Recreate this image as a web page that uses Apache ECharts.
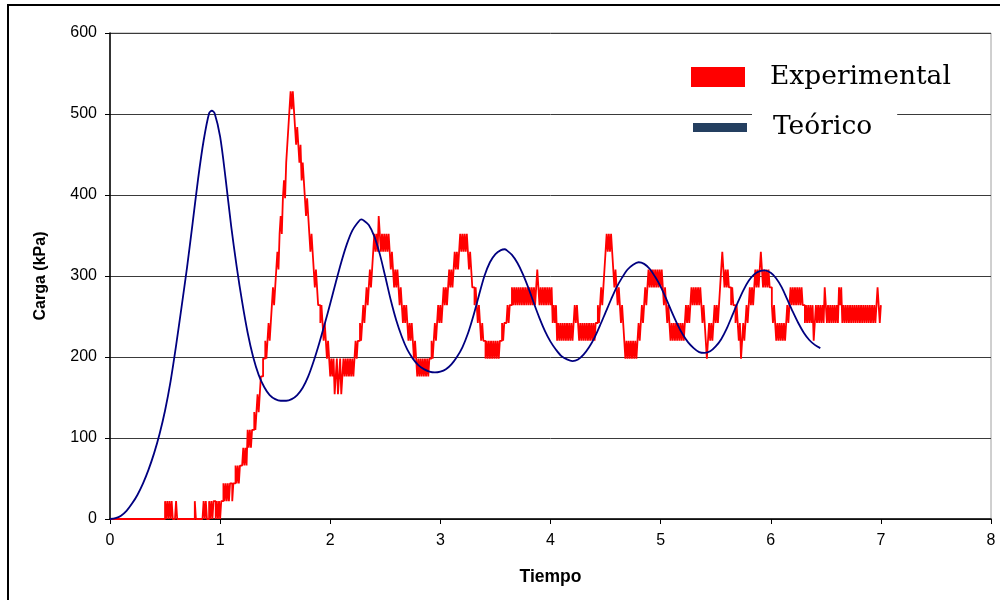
<!DOCTYPE html>
<html>
<head>
<meta charset="utf-8">
<script src="https://cdn.jsdelivr.net/npm/echarts@6/dist/echarts.min.js"></script>
<style>html,body{margin:0;padding:0;background:#fff}#chart{width:1000px;height:600px}</style>
</head>
<body>
<div id="chart"></div>
<script>
// Series names
const seriesNames = ['Experimental', 'Teórico'];
// Tick labels
const xTicks = [0, 1, 2, 3, 4, 5, 6, 7, 8];
const yTicks = [0, 100, 200, 300, 400, 500, 600];

// Experimental load (kPa), sampled every 0.01 s starting at t = 0
const expStart = 0;
const expStep = 0.01;
const expValues = [
  0,0,0,0,0,0,0,0,0,0,
  0,0,0,0,0,0,0,0,0,0,
  0,0,0,0,0,0,0,0,0,0,
  0,0,0,0,0,0,0,0,0,0,
  0,0,0,0,0,0,0,0,0,0,
  22,0,22,0,22,0,22,0,0,0,
  22,0,0,0,0,0,0,0,0,0,
  0,0,0,0,0,0,0,22,0,0,
  0,0,0,0,0,22,0,22,0,0,
  22,0,22,0,22,22,0,22,0,22,
  0,22,22,44,22,44,22,44,22,44,
  44,22,44,44,66,44,66,44,66,66,
  66,88,66,88,66,110,88,110,88,110,
  110,132,110,132,154,132,154,176,176,198,
  198,220,198,220,242,220,242,264,286,264,
  286,308,330,308,352,374,352,396,418,396,
  440,462,484,506,528,506,528,506,484,462,
  484,462,440,462,418,440,418,396,374,396,
  374,352,330,352,330,308,286,308,286,264,
  264,242,264,242,220,242,220,198,220,198,
  176,198,176,198,154,176,198,154,176,198,
  154,176,198,176,198,176,198,176,198,176,
  198,176,198,220,198,220,220,242,220,242,
  264,242,264,286,264,286,308,286,308,330,
  352,330,352,330,374,352,330,352,330,352,
  330,352,330,352,330,308,330,308,286,308,
  286,308,286,264,286,264,242,264,242,264,
  242,220,242,220,242,220,198,220,198,176,
  198,176,198,176,198,176,198,176,198,176,
  198,198,220,198,220,242,220,242,264,242,
  264,242,264,286,264,286,264,286,308,286,
  308,286,308,330,308,330,308,330,352,330,
  352,330,352,330,352,330,308,330,308,286,
  286,264,286,264,242,264,242,220,242,220,
  220,198,220,198,220,198,220,198,220,198,
  220,198,220,198,220,220,242,220,242,242,
  242,264,242,264,264,286,264,286,264,286,
  264,286,264,286,264,286,264,286,264,286,
  264,286,264,286,264,286,264,286,308,286,
  264,286,264,286,264,286,264,286,264,286,
  264,286,242,264,242,264,220,242,220,242,
  220,242,220,242,220,242,220,242,220,242,
  220,242,264,242,264,242,220,242,220,242,
  220,242,220,242,220,242,220,242,220,242,
  220,242,242,264,242,264,286,264,286,308,
  330,352,330,352,330,352,330,308,286,308,
  286,264,286,264,242,264,242,220,198,220,
  198,220,198,220,198,220,198,220,198,220,
  242,220,242,264,242,264,286,264,286,308,
  286,308,286,308,286,308,286,308,286,308,
  286,308,286,264,286,264,242,264,242,220,
  242,220,242,220,242,220,242,220,242,220,
  242,220,242,264,242,264,242,264,286,264,
  286,264,286,264,286,264,286,264,242,264,
  242,220,198,220,242,220,242,220,242,264,
  242,264,242,264,286,308,330,308,286,308,
  286,308,286,286,264,286,264,264,242,264,
  242,220,242,198,220,242,220,242,264,242,
  264,286,264,286,264,286,308,286,308,286,
  308,330,308,286,308,286,308,286,308,286,
  286,264,242,264,242,220,242,220,242,220,
  242,220,242,220,242,264,242,264,286,264,
  286,264,286,264,286,264,286,264,286,264,
  264,242,264,242,264,242,264,242,264,220,
  242,264,242,264,242,264,242,264,242,286,
  264,242,264,242,264,242,264,242,264,242,
  264,242,286,264,286,242,264,242,264,242,
  264,242,264,242,264,242,264,242,264,242,
  264,242,264,242,264,242,264,242,264,242,
  264,242,264,242,264,242,264,286,264,242,
  264
];

// Theoretical load: times (s) and values (kPa)
const theoTime = [
  0,0.05,0.1,0.15,0.2,0.25,0.3,0.35,0.4,0.45,
  0.5,0.55,0.6,0.65,0.7,0.75,0.8,0.85,0.9,0.925,0.95,
  1.0,1.05,1.1,1.15,1.2,1.25,1.3,1.35,1.4,1.45,
  1.5,1.55,1.6,1.65,1.7,1.75,1.8,1.85,1.9,1.95,
  2.0,2.05,2.1,2.15,2.2,2.25,2.28,2.3,2.35,2.4,2.45,
  2.5,2.55,2.6,2.65,2.7,2.75,2.8,2.85,2.9,2.95,
  3.0,3.05,3.1,3.15,3.2,3.25,3.3,3.35,3.4,3.45,
  3.5,3.55,3.585,3.6,3.65,3.7,3.75,3.8,3.85,3.9,3.95,
  4.0,4.05,4.1,4.15,4.2,4.25,4.3,4.35,4.4,4.45,
  4.5,4.55,4.6,4.65,4.7,4.75,4.8,4.85,4.9,4.95,
  5.0,5.05,5.1,5.15,5.2,5.25,5.3,5.35,5.4,5.45,
  5.5,5.55,5.6,5.65,5.7,5.75,5.8,5.85,5.9,5.945,6.0,
  6.05,6.1,6.15,6.2,6.25,6.3,6.35,6.4,6.45
];
const theoLoad = [
  0,1,4,10,19,30,44,61,81,105,
  134,170,214,262,311,365,420,467,501,504,501,
  472,420,362,312,268,230,200,178,163,153,
  148,146,146,148,153,162,176,195,217,241,
  266,292,317,339,356,366,370,369,363,349,327,
  299,270,245,225,209,198,190,185,182,181,
  182,185,191,200,212,229,251,276,300,317,
  327,332,333,332,326,316,302,285,266,248,232,
  219,209,201,197,195,197,203,212,224,239,
  255,271,286,298,308,314,317,315,309,299,
  287,272,256,241,228,218,211,206,205,207,
  213,222,235,251,267,282,294,302,306,307,304,
  297,286,271,256,242,230,221,215,211
];

const expData = expValues.map((v, i) => [+(expStart + i * expStep).toFixed(2), v]);
const theoData = theoTime.map((t, i) => [t, theoLoad[i]]);

const chart = echarts.init(document.getElementById('chart'), null, {renderer: 'canvas'});
const axisFont = 'Liberation Sans, Arial, sans-serif';
chart.setOption({
  animation: false,
  backgroundColor: '#fff',
  grid: {left: 110, right: 9, top: 33, bottom: 81, show: true, borderColor: '#a0a0a0', borderWidth: 1, backgroundColor: 'transparent'},
  legend: [
    {
      data: [seriesNames[0]], left: 691, top: 58.5, padding: 0, itemWidth: 54, itemHeight: 20,
      icon: 'rect', selectedMode: false,
      textStyle: {fontFamily: 'DejaVu Serif', fontSize: 26.5, lineHeight: 32, color: '#000', padding: [5, 0, 0, 20]}
    },
    {
      data: [{name: seriesNames[1], itemStyle: {color: '#243f60'}}], left: 693, top: 102.5, padding: 0, itemWidth: 54, itemHeight: 9,
      icon: 'rect', selectedMode: false,
      textStyle: {fontFamily: 'DejaVu Serif', fontSize: 26.5, lineHeight: 32, color: '#000', backgroundColor: '#fff', padding: [16, 25, 2, 21]}
    }
  ],
  xAxis: {
    type: 'value', min: 0, max: 8, interval: 1,
    name: 'Tiempo', nameLocation: 'middle', nameGap: 49,
    nameTextStyle: {fontFamily: axisFont, fontSize: 17.5, fontWeight: 'bold', color: '#000'},
    axisLine: {onZero: false, lineStyle: {color: '#000', width: 1.5}},
    axisTick: {show: true, length: 5, lineStyle: {color: '#000'}},
    axisLabel: {margin: 14, fontFamily: axisFont, fontSize: 16, color: '#000',
      formatter: v => xTicks.includes(v) ? String(v) : ''},
    splitLine: {show: false}
  },
  yAxis: {
    type: 'value', min: 0, max: 600, interval: 100,
    name: 'Carga (kPa)', nameLocation: 'middle', nameGap: 61, nameRotate: 90,
    nameTextStyle: {fontFamily: axisFont, fontSize: 16, fontWeight: 'bold', color: '#000'},
    axisLine: {show: true, lineStyle: {color: '#000', width: 1.5}},
    axisTick: {show: true, length: 5, lineStyle: {color: '#000'}},
    axisLabel: {margin: 13, fontFamily: axisFont, fontSize: 16, color: '#000',
      formatter: v => yTicks.includes(v) ? String(v) : ''},
    splitLine: {show: true, lineStyle: {color: '#3a3a3a', width: 1}}
  },
  series: [
    {
      name: seriesNames[0], type: 'line', data: expData, showSymbol: false, symbol: 'none', step: 'end',
      sampling: null, lineStyle: {color: '#ff0000', width: 1.8}, itemStyle: {color: '#ff0000'}, z: 2
    },
    {
      name: seriesNames[1], type: 'line', data: theoData, showSymbol: false, symbol: 'none', smooth: 0.3,
      lineStyle: {color: '#000080', width: 1.8}, itemStyle: {color: '#243f60'}, z: 3
    }
  ],
  graphic: [
    {type: 'rect', shape: {x: 8, y: 5, width: 1000, height: 600}, style: {fill: 'none', stroke: '#000', lineWidth: 2}, z: 100, silent: true}
  ]
});
</script>
</body>
</html>
